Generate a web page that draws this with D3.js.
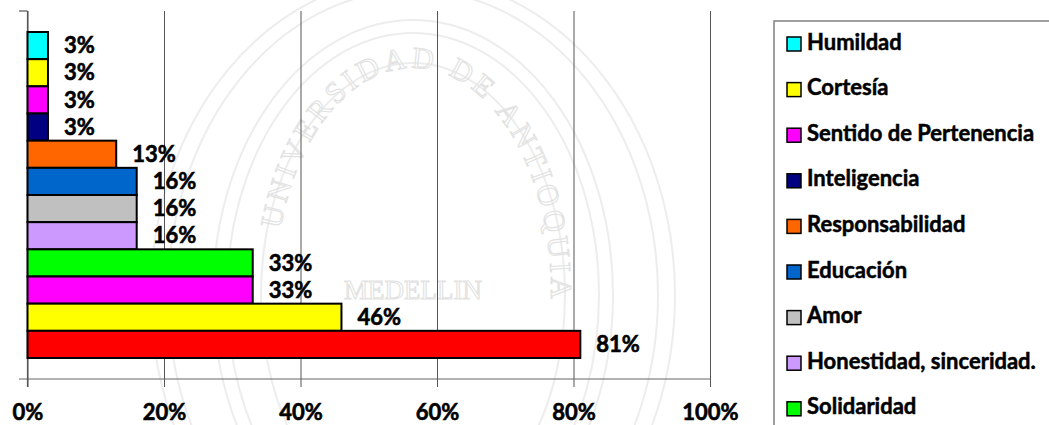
<!DOCTYPE html>
<html>
<head>
<meta charset="utf-8">
<script src="https://cdn.jsdelivr.net/npm/d3@7"></script>
<style>
  html, body { margin: 0; padding: 0; background: #fff; overflow: hidden; }
  svg { display: block; }
</style>
</head>
<body>
<svg id="chart" width="1049" height="425"></svg>
<script>
// Categories listed top to bottom (legend order); the last three fall outside the visible legend
const categories = ["Humildad", "Cortesía", "Sentido de Pertenencia", "Inteligencia",
  "Responsabilidad", "Educación", "Amor", "Honestidad, sinceridad.", "Solidaridad",
  "Compañerismo", "Tolerancia", "Respeto"];
const values = [0.03, 0.03, 0.03, 0.03, 0.13, 0.16, 0.16, 0.16, 0.33, 0.33, 0.46, 0.81];
const colors = ["#00FFFF", "#FFFF00", "#FF00FF", "#000080", "#FF6600", "#0066CC",
  "#C0C0C0", "#CC99FF", "#00FF00", "#FF00FF", "#FFFF00", "#FF0000"];
const xTicks = [0, 0.2, 0.4, 0.6, 0.8, 1.0];
const sealText = "UNIVERSIDAD DE ANTIOQUIA";
const sealCity = "MEDELLIN";

const svg = d3.select("#chart");
const W = 1049, H = 425;
const FONT = "Lato";

// ---- faint watermark (seal) ----
const wm = svg.append("g").attr("fill", "none").attr("stroke", "#ededed").attr("stroke-width", 2);
[[152, 232], [186, 262], [200, 275], [245, 305], [262, 318]].forEach(([rx, ry]) => {
  wm.append("ellipse").attr("cx", 413).attr("cy", 295).attr("rx", rx).attr("ry", ry);
});
(function () {
  const cx = 413, cy = 290, rx = 138, ry = 222;
  const pts = d3.range(205, -26, -1).map(a => {
    const t = a * Math.PI / 180;
    return [cx + rx * Math.cos(t), cy - ry * Math.sin(t)];
  });
  const p = svg.append("path").attr("d", d3.line()(pts)).attr("fill", "none").attr("stroke", "none");
  const node = p.node();
  const L = node.getTotalLength();
  const tmp = svg.append("text").attr("font-family", "Liberation Serif").attr("font-size", 30);
  const widths = sealText.split("").map(ch => { tmp.text(ch === " " ? "\u00a0" : ch); return tmp.node().getComputedTextLength(); });
  tmp.remove();
  const spacing = 4;
  const total = d3.sum(widths) + spacing * (widths.length - 1);
  let s = L / 2 - total / 2 + 35;
  const g = svg.append("g").attr("font-family", "Liberation Serif").attr("font-size", 30)
    .attr("fill", "none").attr("stroke", "#e2e2e2").attr("stroke-width", 1.1);
  sealText.split("").forEach((ch, i) => {
    const mid = s + widths[i] / 2;
    const a = node.getPointAtLength(mid - 1), b = node.getPointAtLength(mid + 1), m = node.getPointAtLength(mid);
    const ang = Math.atan2(b.y - a.y, b.x - a.x) * 180 / Math.PI;
    if (ch !== " ") {
      g.append("text").attr("text-anchor", "middle")
        .attr("transform", `translate(${m.x},${m.y}) rotate(${ang})`).text(ch);
    }
    s += widths[i] + spacing;
  });
})();
svg.append("text").attr("x", 413).attr("y", 299).attr("text-anchor", "middle")
  .attr("font-family", "Liberation Serif").attr("font-size", 27)
  .attr("fill", "none").attr("stroke", "#e2e2e2").attr("stroke-width", 1.1)
  .text(sealCity);

// ---- scales ----
const x = d3.scaleLinear().domain([0, 1]).range([27.5, 710]);
const y = d3.scaleBand().domain(categories).range([32, 358]).padding(0);
const axisY = 379, topY = 11, tickBottom = 387;

// gridlines + ticks (vertical)
const xAxis = d3.axisBottom(x).tickValues(xTicks).tickFormat(d3.format(".0%"))
  .tickSize(-(axisY - topY)).tickSizeOuter(0);
const gx = svg.append("g").attr("transform", `translate(0,${axisY})`).call(xAxis);
gx.select(".domain").remove();
gx.selectAll(".tick line").attr("stroke", "#555").attr("stroke-width", 1)
  .attr("y1", tickBottom - axisY).attr("y2", topY - axisY);
gx.selectAll(".tick text").attr("y", 0).attr("dy", 0)
  .attr("transform", `translate(0,${420 - axisY})`)
  .attr("font-family", FONT).attr("font-weight", 700).attr("font-size", 22)
  .attr("fill", "#000").attr("stroke", "#000").attr("stroke-width", 0.6);

// axis lines
svg.append("line").attr("x1", 19).attr("x2", x(1)).attr("y1", axisY).attr("y2", axisY)
  .attr("stroke", "#666").attr("stroke-width", 1.2);
svg.append("line").attr("x1", x(0)).attr("x2", x(0)).attr("y1", topY).attr("y2", tickBottom)
  .attr("stroke", "#555").attr("stroke-width", 1.2);
svg.append("line").attr("x1", 19).attr("x2", x(0)).attr("y1", topY).attr("y2", topY)
  .attr("stroke", "#555").attr("stroke-width", 1.2);

// ---- bars ----
const data = categories.map((c, i) => ({ c, v: values[i], col: colors[i] }));
svg.append("g").selectAll("rect").data(data).join("rect")
  .attr("x", x(0))
  .attr("y", d => y(d.c))
  .attr("width", d => x(d.v) - x(0))
  .attr("height", y.bandwidth())
  .attr("fill", d => d.col)
  .attr("stroke", "#000").attr("stroke-width", 2);

// value labels
svg.append("g").selectAll("text").data(data).join("text")
  .attr("x", d => x(d.v) + 16)
  .attr("y", d => y(d.c) + y.bandwidth() / 2 + 2)
  .attr("dominant-baseline", "middle")
  .attr("font-family", FONT).attr("font-weight", 700).attr("font-size", 22)
  .attr("fill", "#000").attr("stroke", "#000").attr("stroke-width", 0.6)
  .text(d => d3.format(".0%")(d.v));

// ---- legend (only the entries that fit in the frame are visible) ----
const lg = svg.append("g");
lg.append("rect").attr("x", 774).attr("y", 21).attr("width", 400).attr("height", 600)
  .attr("fill", "#fff").attr("stroke", "#808080").attr("stroke-width", 1.5);
const legendRows = data.map((d, i) => ({ ...d, ly: 44 + i * 45.6 })).filter(d => d.ly + 12 < H);
const items = lg.selectAll("g.item").data(legendRows).join("g").attr("class", "item")
  .attr("transform", d => `translate(0,${d.ly})`);
items.append("rect").attr("x", 787).attr("y", -7).attr("width", 14).attr("height", 14)
  .attr("fill", d => d.col).attr("stroke", "#000").attr("stroke-width", 1.5);
items.append("text").attr("x", 807).attr("y", 0).attr("dominant-baseline", "middle")
  .attr("font-family", FONT).attr("font-weight", 700).attr("font-size", 22)
  .attr("fill", "#000").attr("stroke", "#000").attr("stroke-width", 0.5)
  .text(d => d.c);
</script>
</body>
</html>
